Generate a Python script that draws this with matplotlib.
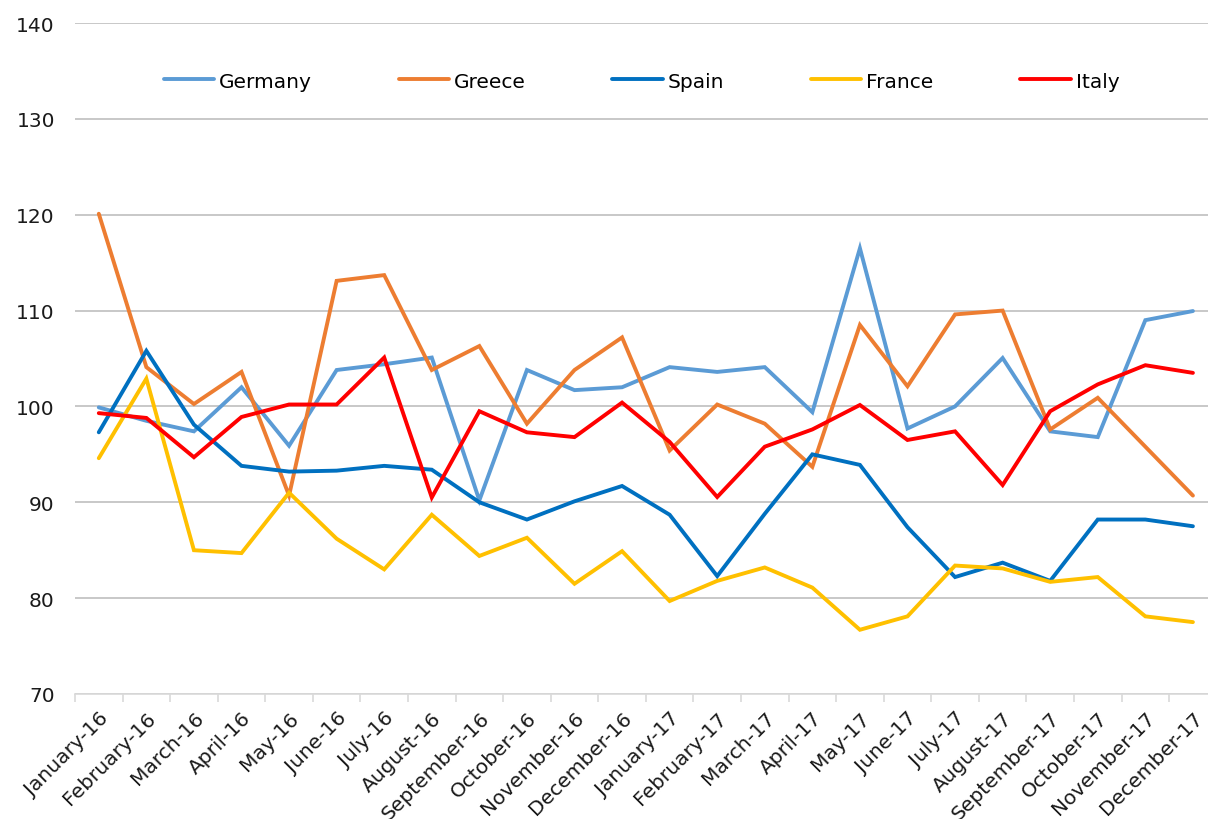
import matplotlib
matplotlib.use("Agg")
import matplotlib.pyplot as plt
from matplotlib.ticker import FixedLocator

months = ["January-16", "February-16", "March-16", "April-16", "May-16", "June-16",
          "July-16", "August-16", "September-16", "October-16", "November-16", "December-16",
          "January-17", "February-17", "March-17", "April-17", "May-17", "June-17",
          "July-17", "August-17", "September-17", "October-17", "November-17", "December-17"]

germany = [99.9, 98.5, 97.4, 102.0, 95.9, 103.8, 104.4, 105.1, 90.2, 103.8, 101.7, 102.0,
           104.1, 103.6, 104.1, 99.4, 116.5, 97.7, 100.0, 105.05, 97.4, 96.8, 109.0, 109.95]
greece = [120.1, 104.1, 100.25, 103.6, 90.7, 113.1, 113.7, 103.8, 106.3, 98.2, 103.8, 107.2,
          95.4, 100.2, 98.2, 93.7, 108.5, 102.1, 109.6, 110.0, 97.6, 100.9, 95.8, 90.7]
spain = [97.3, 105.8, 98.1, 93.8, 93.2, 93.3, 93.8, 93.4, 90.0, 88.2, 90.1, 91.7,
         88.7, 82.3, 88.8, 95.0, 93.9, 87.4, 82.2, 83.7, 81.8, 88.2, 88.2, 87.5]
france = [94.6, 102.9, 85.0, 84.7, 91.0, 86.2, 83.0, 88.7, 84.4, 86.3, 81.5, 84.9,
          79.7, 81.8, 83.2, 81.1, 76.7, 78.1, 83.4, 83.1, 81.7, 82.2, 78.1, 77.5]
italy = [99.3, 98.8, 94.7, 98.9, 100.2, 100.2, 105.1, 90.5, 99.5, 97.3, 96.8, 100.4,
         96.3, 90.55, 95.8, 97.6, 100.15, 96.5, 97.4, 91.8, 99.5, 102.3, 104.3, 103.5]

series = [("Germany", germany, "#5B9BD5"),
          ("Greece", greece, "#ED7D31"),
          ("Spain", spain, "#0070C0"),
          ("France", france, "#FFC000"),
          ("Italy", italy, "#FF0000")]

plt.rcParams['font.family'] = ['DejaVu Sans']
fs = 14.5

fig = plt.figure(figsize=(12.08, 8.2), dpi=100)
ax = fig.add_axes([75/1208, 125/820, 1141.7/1208, 671/820])

x = list(range(len(months)))
for name, vals, col in series:
    ax.plot(x, vals, color=col, lw=2.8, label=name, solid_capstyle='round', solid_joinstyle='miter')

ax.set_xlim(-0.5, len(months) - 0.5)
ax.set_ylim(70, 140)
ax.set_yticks(range(70, 141, 10))
ax.yaxis.grid(True, color="#BFBFBF", lw=1.2)
ax.set_axisbelow(True)
for s in ["left", "right", "top"]:
    ax.spines[s].set_visible(False)
ax.spines["bottom"].set_color("#D9D9D9")
ax.spines["bottom"].set_linewidth(1.2)

ax.tick_params(axis="y", length=0, pad=14.5, labelsize=fs, labelcolor="#1a1a1a")
ax.set_xticks(x)
ax.set_xticklabels(months, rotation=45, ha="right", rotation_mode="anchor", fontsize=fs,
                   color="#1a1a1a")
ax.tick_params(axis="x", which="major", length=0, pad=10)
ax.xaxis.set_minor_locator(FixedLocator([i - 0.5 for i in range(len(months) + 1)]))
ax.tick_params(axis="x", which="minor", length=6, color="#D9D9D9", width=1.2)

fig.legend(loc="center", bbox_to_anchor=(0.531, 0.9), ncol=5, frameon=False,
           fontsize=fs, handlelength=2.5, handletextpad=0.25, columnspacing=4.3)

fig.savefig("out.png", dpi=100, facecolor="white")
